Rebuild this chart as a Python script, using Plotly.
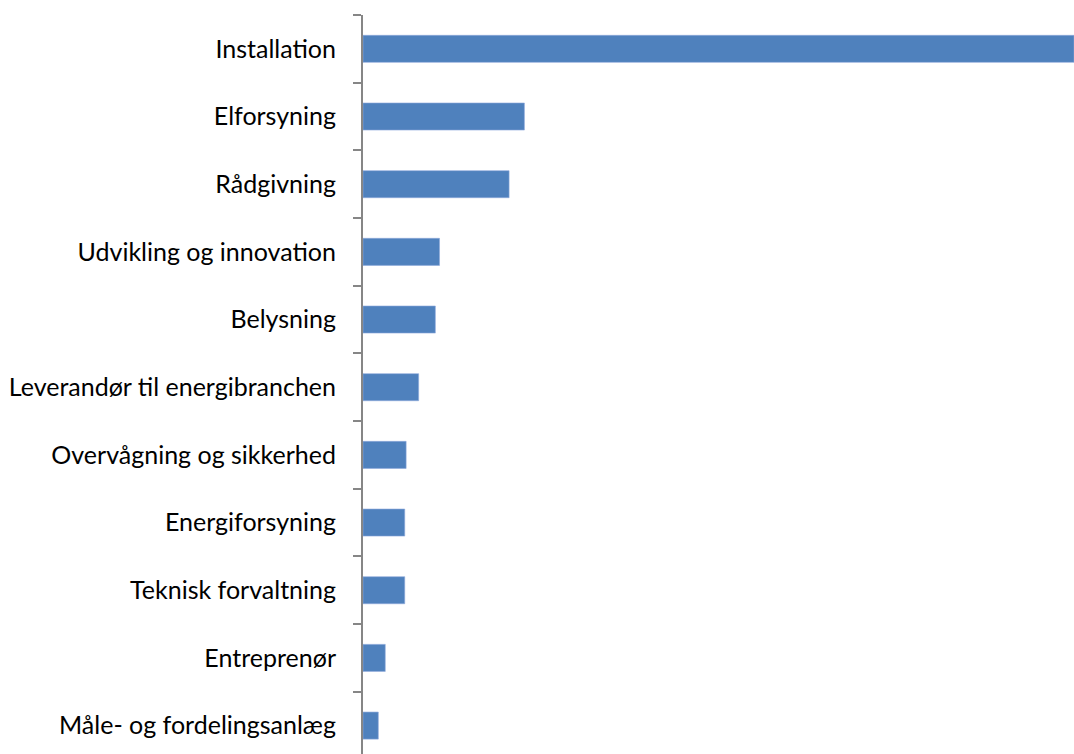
import plotly.graph_objects as go

categories = [
    "Installation",
    "Elforsyning",
    "Rådgivning",
    "Udvikling og innovation",
    "Belysning",
    "Leverandør til energibranchen",
    "Overvågning og sikkerhed",
    "Energiforsyning",
    "Teknisk forvaltning",
    "Entreprenør",
    "Måle- og fordelingsanlæg",
]
values = [51.1, 11.6, 10.5, 5.5, 5.2, 4.0, 3.1, 3.0, 3.0, 1.6, 1.1]

fig = go.Figure(
    go.Bar(
        y=categories,
        x=values,
        orientation="h",
        marker=dict(color="#4F81BD", line=dict(color="#8FAADC", width=0.6)),
        width=0.4,
    )
)

fig.update_layout(
    width=1074,
    height=754,
    margin=dict(l=363, r=0, t=15, b=0, pad=0),
    paper_bgcolor="white",
    plot_bgcolor="white",
    showlegend=False,
    font=dict(family="Lato", size=25, color="#000000"),
)

fig.update_xaxes(
    range=[0, max(values)],
    showgrid=False,
    zeroline=False,
    showticklabels=False,
    showline=False,
    ticks="",
)

fig.update_yaxes(
    type="category",
    categoryorder="array",
    categoryarray=categories,
    range=[10.42, -0.5],
    showgrid=False,
    zeroline=False,
    showline=True,
    linecolor="#868686",
    linewidth=2,
    ticks="outside",
    tickson="boundaries",
    ticklen=8,
    tickwidth=1.5,
    tickcolor="#868686",
    ticklabelstandoff=20,
    tickfont=dict(family="Lato", size=25, color="#000000"),
)

fig.write_html(
    "out.html",
    config={"displayModeBar": False},
    post_script="document.body.style.margin='0';document.body.style.overflow='hidden';",
)
